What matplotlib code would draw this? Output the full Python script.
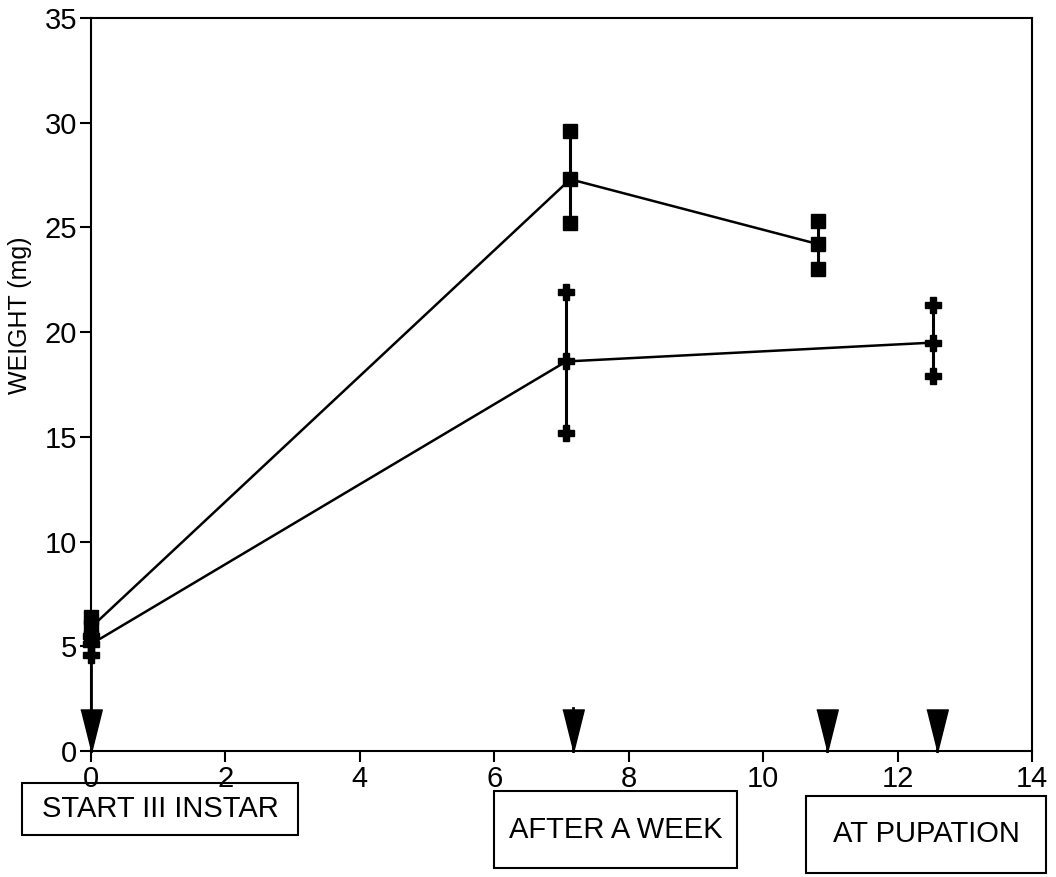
import matplotlib
matplotlib.use("Agg")
import matplotlib.pyplot as plt
from matplotlib.patches import Rectangle

plt.rcParams["font.family"] = ["Liberation Sans", "DejaVu Sans"]

# ── data ───────────────────────────────────────────────────────────────────
upper_x    = [0.0, 7.13, 10.82]
upper_mean = [5.9, 27.3, 24.2]
upper_hi   = [6.4, 29.6, 25.3]
upper_lo   = [5.4, 25.2, 23.0]

lower_x    = [0.0, 7.07, 12.52]
lower_mean = [5.1, 18.6, 19.5]
lower_hi   = [5.5, 21.9, 21.3]
lower_lo   = [4.6, 15.2, 17.9]

arrow_x   = [0.0, 7.17, 10.95, 12.59]
arrow_top = [4.6, 2.05, 1.6, 1.6]      # top of the stem above each arrow

stage_labels = ["START III INSTAR", "AFTER A WEEK", "AT PUPATION"]

# ── figure ─────────────────────────────────────────────────────────────────
fig = plt.figure(figsize=(10.56, 8.77), dpi=100)
ax = fig.add_axes([91/1056, 1 - 751/877, 941/1056, 733/877])

def series(xs, mean, hi, lo, marker, ms):
    ax.plot(xs, mean, color="black", lw=1.8, zorder=2)
    for x, m, h, l in zip(xs, mean, hi, lo):
        ax.plot([x, x], [l, h], color="black", lw=2.2, zorder=2)
        ax.plot([x, x, x], [l, m, h], ls="none", marker=marker, ms=ms,
                color="black", mec="black", zorder=3, clip_on=False)

series(upper_x, upper_mean, upper_hi, upper_lo, "s", 10)
series(lower_x, lower_mean, lower_hi, lower_lo, "P", 11)

# down-pointing event arrows (narrow triangles)
tri = [(-0.95, 1.9), (0.95, 1.9), (0, -1.9)]
for x, top in zip(arrow_x, arrow_top):
    ax.plot([x, x], [0, top], color="black", lw=2, zorder=2, clip_on=False)
    ax.plot([x], [0.95], ls="none", marker=tri, ms=31, color="black",
            zorder=3, clip_on=False)

ax.set_xlim(0, 14)
ax.set_ylim(0, 35)
ax.set_xticks(range(0, 15, 2))
ax.set_yticks(range(0, 36, 5))
ax.tick_params(direction="out", length=8, width=1.5, labelsize=21, pad=2)
for s in ax.spines.values():
    s.set_linewidth(1.5)

ax.set_ylabel("WEIGHT (mg)", fontsize=18)
ax.yaxis.set_label_coords(-0.063, 0.595)

# stage boxes below the axis (pixel boxes: x0, y0_top, x1, y1_bottom)
boxes = [(22, 783, 298, 835), (494, 791, 737, 868), (806, 796, 1046, 873)]
for (x0, y0, x1, y1), lab in zip(boxes, stage_labels):
    fig.patches.append(Rectangle((x0/1056, 1 - y1/877), (x1 - x0)/1056, (y1 - y0)/877,
                                 transform=fig.transFigure, fill=False,
                                 edgecolor="black", lw=1.5))
    fig.text((x0 + x1)/2/1056, 1 - (y0 + y1)/2/877, lab, fontsize=21,
             ha="center", va="center")

fig.savefig("out.png", dpi=100)
